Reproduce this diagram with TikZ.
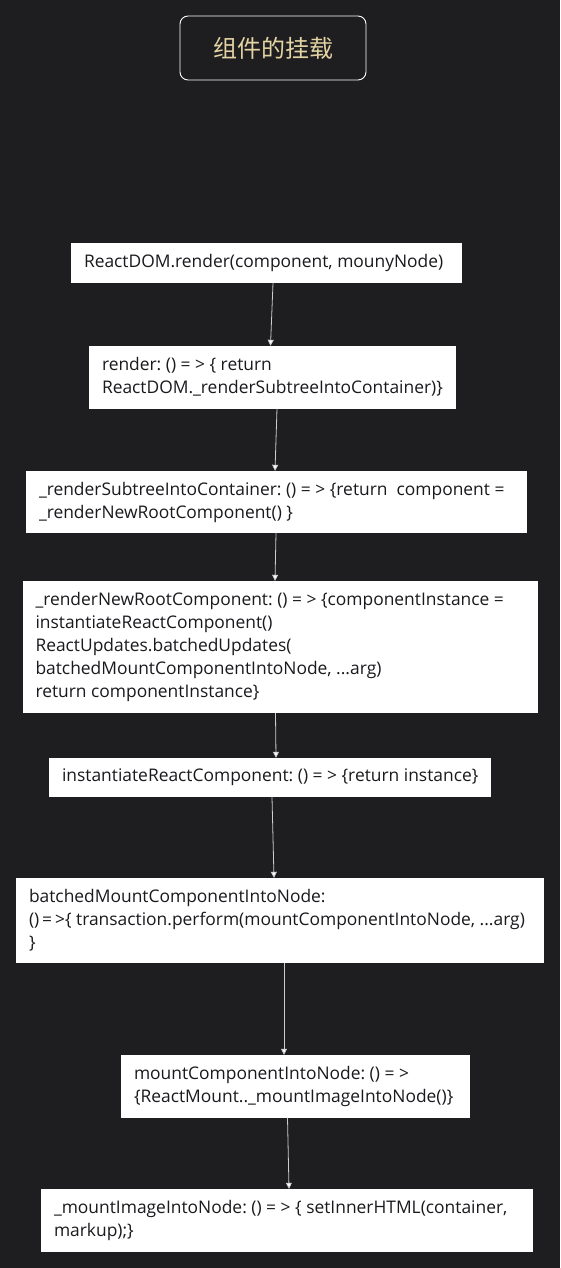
\documentclass[tikz,border=0pt]{standalone}
\usepackage{fontspec}
\setmainfont{Open Sans}
\newfontfamily\cjk{Noto Sans CJK SC}
\usetikzlibrary{arrows.meta}
\frenchspacing
\definecolor{bg}{RGB}{30,30,32}
\definecolor{titlecol}{RGB}{228,212,164}
\definecolor{txt}{RGB}{26,26,30}
\definecolor{linecol}{RGB}{205,205,205}
\newlength{\boxtw}
\tikzset{
  stepbox/.style={fill=white, draw=none, text=txt, anchor=center,
    inner xsep=13pt, inner ysep=0pt,
    font=\fontsize{17.4pt}{23pt}\selectfont},
  titlebox/.style={draw=white, line width=0.9pt, rounded corners=8pt, fill=bg,
    text=titlecol, font=\cjk\fontsize{24pt}{28pt}\selectfont, inner sep=0pt},
  flow/.style={draw=linecol, line width=0.8pt,
    -{Triangle[width=6pt,length=6pt,fill=white]}}
}
\newcommand{\mkbox}[6]{% name, cx, cy, W, H, text
  \setlength{\boxtw}{#4pt}\addtolength{\boxtw}{-26pt}%
  \node[stepbox, minimum width=#4pt, minimum height=#5pt] (#1) at (#2,#3)
    {\raisebox{-3.5pt}{\parbox{\boxtw}{\raggedright #6}}};}
\begin{document}
\begin{tikzpicture}[x=1pt,y=-1pt]
\fill[bg] (0,0) rectangle (560,1268);
\useasboundingbox (0,0) rectangle (560,1268);

\node[titlebox, minimum width=186pt, minimum height=64pt] (title) at (273,48) {组件的挂载};

\mkbox{b1}{266.5}{263}{391}{40}{ReactDOM.render(component, mounyNode)}
\mkbox{b2}{272.5}{377.25}{367}{62.5}{render: () = > \{ return\\ReactDOM.\_renderSubtreeIntoContainer)\}}
\mkbox{b3}{276.5}{502}{501}{62}{\_renderSubtreeIntoContainer: () = > \{return\ \ component =\\\_renderNewRootComponent() \}}
\mkbox{b4}{280.25}{647}{515.5}{132}{\_renderNewRootComponent: () = > \{componentInstance =\\instantiateReactComponent()\\ReactUpdates.batchedUpdates(\\batchedMountComponentIntoNode, ...arg)\\return componentInstance\}}
\mkbox{b5}{270}{777.5}{442}{39}{\mbox{instantiateReactComponent: () = > \{return instance\}}}
\mkbox{b6}{280}{920.5}{528}{85}{batchedMountComponentIntoNode:\\()\,=\,>\{ transaction.perform(mountComponentIntoNode, ...arg)\\\}}
\mkbox{b7}{295.5}{1086.25}{349}{62.5}{mountComponentIntoNode: () = >\\\{ReactMount..\_mountImageIntoNode()\}}
\mkbox{b8}{287}{1220.25}{492}{62.5}{\_mountImageIntoNode: () = > \{ setInnerHTML(container,\\markup);\}}

\draw[flow] ([xshift=6.5pt]b1.south) -- ([xshift=-2pt]b2.north);
\draw[flow] ([xshift=4.5pt]b2.south) -- ([xshift=-1.5pt]b3.north);
\draw[flow] ([xshift=-0.5pt]b3.south) -- ([xshift=-5.25pt]b4.north);
\draw[flow] ([xshift=-4.75pt]b4.south) -- ([xshift=6pt]b5.north);
\draw[flow] ([xshift=2pt]b5.south) -- ([xshift=-6pt]b6.north);
\draw[flow] ([xshift=4pt]b6.south) -- ([xshift=-11.5pt]b7.north);
\draw[flow] ([xshift=-8pt]b7.south) -- ([xshift=2pt]b8.north);
\end{tikzpicture}
\end{document}
